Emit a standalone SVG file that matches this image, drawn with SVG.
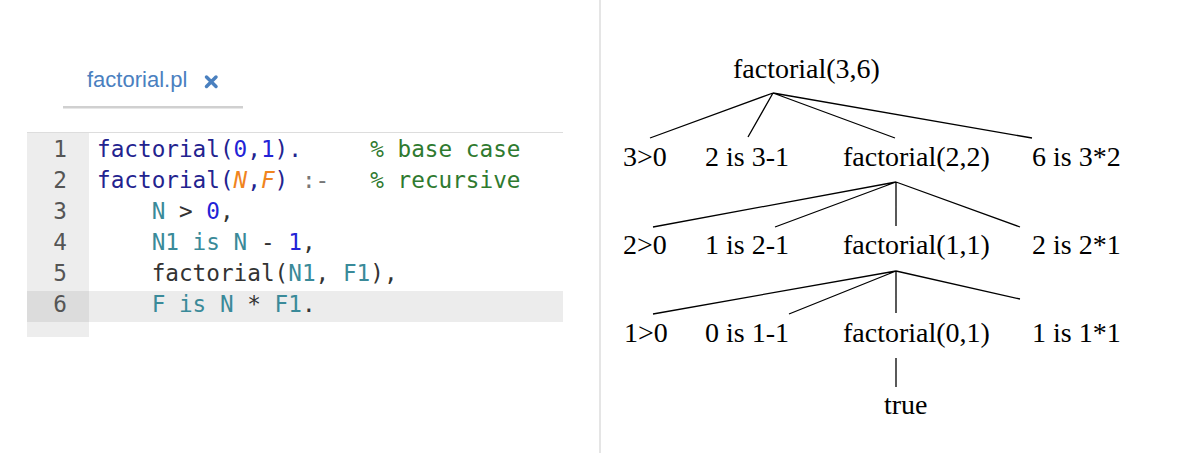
<svg xmlns="http://www.w3.org/2000/svg" width="1200" height="456" viewBox="0 0 1200 456">
<style>
.code{font-family:"DejaVu Sans Mono","Liberation Mono",monospace;font-size:22.7px;white-space:pre}
.ln{font-family:"DejaVu Sans Mono","Liberation Mono",monospace;font-size:22.7px;fill:#555;text-anchor:end}
.hd{fill:#23238f}.num{fill:#2323d6}.vh{fill:#f0841e;font-style:italic}.vb{fill:#3a8a99}.op{fill:#333}.cm{fill:#2f7a2f}.nk{fill:#777}
.t{font-family:"Liberation Serif","Times New Roman",serif;font-size:28px;fill:#000}
.e{stroke:#000;stroke-width:1.3;fill:none}
</style>
<rect width="1200" height="456" fill="#fff"/>
<line x1="600" y1="0" x2="600" y2="453" stroke="#ddd" stroke-width="1.5"/>
<g id="editor">
  <g id="tab">
    <text x="87" y="87" font-family="'Liberation Sans',Arial,sans-serif" font-size="22" fill="#4a80bf">factorial.pl</text>
    <path d="M206.5 77 L216 86.5 M216 77 L206.5 86.5" stroke="#4a80bf" stroke-width="3.5" stroke-linecap="round"/>
    <rect x="63" y="106" width="180" height="2.5" fill="#d0d0d0"/>
  </g>
  <rect x="27" y="132" width="536" height="1" fill="#ddd"/>
  <rect x="27" y="133" width="62" height="204" fill="#ededed"/>
  <rect x="89" y="291" width="474" height="31" fill="#ececec"/>
  <rect x="27" y="291" width="62" height="31" fill="#dcdcdc"/>
  <text class="ln" x="67" y="157">1</text>
  <text class="ln" x="67" y="188">2</text>
  <text class="ln" x="67" y="219">3</text>
  <text class="ln" x="67" y="250">4</text>
  <text class="ln" x="67" y="281">5</text>
  <text class="ln" x="67" y="312">6</text>
  <text class="code" x="97" y="157" xml:space="preserve"><tspan class="hd">factorial(</tspan><tspan class="num">0</tspan><tspan class="hd">,</tspan><tspan class="num">1</tspan><tspan class="hd">).</tspan><tspan class="cm">     % base case</tspan></text>
  <text class="code" x="97" y="188" xml:space="preserve"><tspan class="hd">factorial(</tspan><tspan class="vh">N</tspan><tspan class="hd">,</tspan><tspan class="vh">F</tspan><tspan class="hd">)</tspan><tspan class="nk"> :-</tspan><tspan class="cm">   % recursive</tspan></text>
  <text class="code" x="97" y="219" xml:space="preserve"><tspan class="vb">    N</tspan><tspan class="op"> &gt; </tspan><tspan class="num">0</tspan><tspan class="op">,</tspan></text>
  <text class="code" x="97" y="250" xml:space="preserve"><tspan class="vb">    N1 is N</tspan><tspan class="op"> - </tspan><tspan class="num">1</tspan><tspan class="op">,</tspan></text>
  <text class="code" x="97" y="281" xml:space="preserve"><tspan class="op">    factorial(</tspan><tspan class="vb">N1</tspan><tspan class="op">, </tspan><tspan class="vb">F1</tspan><tspan class="op">),</tspan></text>
  <text class="code" x="97" y="312" xml:space="preserve"><tspan class="vb">    F is N</tspan><tspan class="op"> * </tspan><tspan class="vb">F1</tspan><tspan class="op">.</tspan></text>
</g>
<g id="connectors">
  <path class="e" d="M773 93 L650 138 M773 93 L748 137 M773 93 L895 138 M773 93 L1032 138"/>
  <path class="e" d="M896 182 L653 227 M896 182 L775 227 M896 182 L896 226 M896 182 L1020 227"/>
  <path class="e" d="M896 271 L653 314 M896 271 L789 314 M896 271 L896 313 M896 271 L1020 299"/>
  <path class="e" d="M896 358 L896 387"/>
</g>
<g id="n-f36"><text class="t" x="733" y="78">factorial(3,6)</text></g>
<g id="n-3gt0"><text class="t" x="623" y="166">3&gt;0</text></g>
<g id="n-2is"><text class="t" x="705" y="166">2 is 3-1</text></g>
<g id="n-f22"><text class="t" x="843" y="166">factorial(2,2)</text></g>
<g id="n-6is"><text class="t" x="1032" y="166">6 is 3*2</text></g>
<g id="n-2gt0"><text class="t" x="623" y="254">2&gt;0</text></g>
<g id="n-1is"><text class="t" x="705" y="254">1 is 2-1</text></g>
<g id="n-f11"><text class="t" x="843" y="254">factorial(1,1)</text></g>
<g id="n-2is2"><text class="t" x="1032" y="254">2 is 2*1</text></g>
<g id="n-1gt0"><text class="t" x="624" y="342">1&gt;0</text></g>
<g id="n-0is"><text class="t" x="705" y="342">0 is 1-1</text></g>
<g id="n-f01"><text class="t" x="843" y="342">factorial(0,1)</text></g>
<g id="n-1is1"><text class="t" x="1032" y="342">1 is 1*1</text></g>
<g id="n-true"><text class="t" x="884" y="414">true</text></g>
</svg>
